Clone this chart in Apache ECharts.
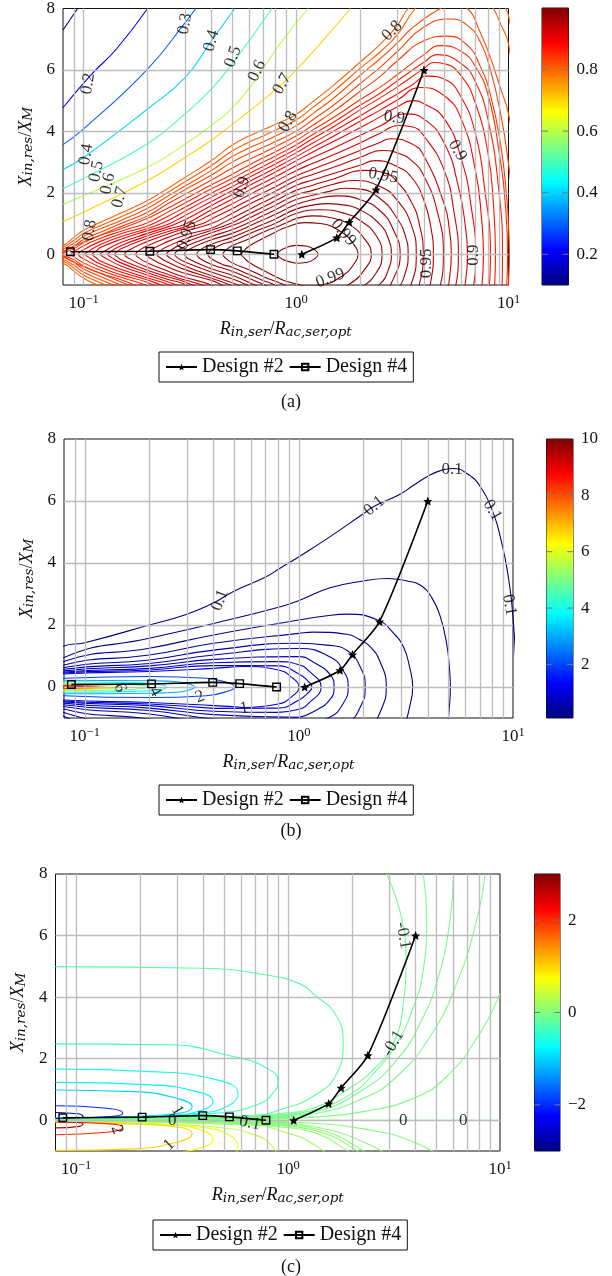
<!DOCTYPE html>
<html><head><meta charset="utf-8"><style>html,body{margin:0;padding:0;background:#fff}#c{width:612px;height:1276px}</style>
<script src="https://cdn.jsdelivr.net/npm/echarts@6/dist/echarts.min.js"></script></head><body><div id="c"></div>
<script>
// ---------- shared values ----------
const xGridValues=[0.09,0.1,0.2,0.3,0.4,0.5,0.6,0.7,0.8,0.9,1,2,3,4,5,6,7,8,9];
const yGridValues=[0,2,4,6];
const design2=[[1.064,0],[1.556,0.54],[1.78,1.05],[2.38,2.11],[4.0,6.0]];
const design4=[[0.0866,0.08],[0.205,0.1],[0.396,0.15],[0.529,0.11],[0.787,0]];

// ---------- panel (a): open contours ----------
const a10=[[0.08,7.3],[0.0937,8]];
const a20=[[0.08,4.77],[0.107,5.8],[0.143,6.69],[0.2,8]];
const a30=[[0.08,3.57],[0.1,4.08],[0.2,6.03],[0.3,7.53],[0.337,8]];
const a40=[[0.08,2.76],[0.1,3.15],[0.2,4.73],[0.3,5.75],[0.4,6.95],[0.515,8]];
const a50=[[0.08,2.14],[0.1,2.47],[0.2,3.6],[0.3,4.57],[0.4,5.38],[0.5,6.2],[0.77,8]];
const a60=[[0.08,1.62],[0.1,1.91],[0.2,2.83],[0.3,3.58],[0.4,4.2],[0.5,4.75],[0.654,5.75],[0.84,6.85],[1.14,8]];
const a70=[[0.08,1.07],[0.1,1.37],[0.2,2.4],[0.3,3.15],[0.4,3.72],[0.607,4.68],[0.814,5.4],[0.97,5.9],[1.25,6.72],[1.8,8]];
const aOpen=[a10,a20,a30,a40,a50,a60,a70];
const aOpenLevels=[0.1,0.2,0.3,0.4,0.5,0.6,0.7];

// ---------- panel (a): closed contours, upper branch from left tip to right crossing ----------
const aC0=[[0.813,0],[0.83,0.08],[0.88,0.19],[1,0.29],[1.13,0.26],[1.22,0.15],[1.27,0]];
const aC1=[[0.554,0],[0.57,0.12],[0.6,0.26],[0.7,0.52],[0.8,0.72],[0.9,0.88],[1.1,1.03],[1.3,1],[1.67,0.68],[1.88,0.3],[1.96,0]];
const aC2=[[0.453,0],[0.465,0.12],[0.5,0.28],[0.6,0.5],[0.7,0.72],[0.8,0.88],[0.887,1],[1,1.16],[1.19,1.25],[1.5,1.17],[1.8,0.95],[2.1,0.5],[2.26,0]];
const aC3=[[0.384,0],[0.395,0.12],[0.45,0.33],[0.5,0.42],[0.6,0.66],[0.7,0.85],[0.796,1],[1,1.33],[1.3,1.45],[1.7,1.33],[2,1.1],[2.36,0.65],[2.54,0]];
const aC4=[[0.341,0],[0.35,0.12],[0.4,0.33],[0.5,0.55],[0.6,0.78],[0.714,1],[0.8,1.15],[1,1.47],[1.2,1.6],[1.42,1.65],[1.7,1.6],[2,1.45],[2.5,0.95],[2.72,0.5],[2.81,0]];
const aC5=[[0.299,0],[0.31,0.14],[0.4,0.47],[0.5,0.68],[0.64,1],[0.7,1.12],[0.8,1.3],[1,1.62],[1.2,1.78],[1.56,1.9],[2,1.78],[2.5,1.4],[2.87,0.8],[3.09,0]];
const aC6=[[0.269,0],[0.28,0.14],[0.3,0.25],[0.4,0.58],[0.5,0.8],[0.587,1],[0.7,1.26],[0.8,1.45],[1,1.78],[1.2,1.92],[1.4,2.03],[1.7,2.15],[2,2.12],[2.5,1.8],[3,1.15],[3.27,0.6],[3.37,0]];
const aC7=[[0.246,0],[0.255,0.12],[0.3,0.38],[0.4,0.7],[0.533,1],[0.6,1.17],[0.7,1.4],[0.8,1.6],[1,1.93],[1.2,2.08],[1.5,2.28],[1.86,2.4],[2.5,2.2],[3,1.75],[3.49,0.95],[3.68,0]];
const aC8=[[0.221,0],[0.23,0.12],[0.25,0.26],[0.3,0.5],[0.4,0.78],[0.5,1.03],[0.6,1.31],[0.7,1.54],[0.8,1.74],[1,2.08],[1.2,2.25],[1.5,2.45],[2.11,2.73],[2.6,2.65],[3,2.35],[3.49,1.7],[3.8,1],[3.97,0]];
const aC9=[[0.198,0],[0.205,0.12],[0.25,0.42],[0.3,0.62],[0.4,0.85],[0.447,1],[0.5,1.17],[0.6,1.45],[0.7,1.69],[0.8,1.89],[1,2.24],[1.2,2.42],[1.5,2.63],[2,2.9],[2.36,3.05],[3,2.85],[3.5,2.5],[4,1.75],[4.33,0.8],[4.43,0]];
const aC10=[[0.176,0],[0.185,0.15],[0.2,0.28],[0.25,0.55],[0.3,0.75],[0.4,1],[0.5,1.33],[0.6,1.62],[0.7,1.85],[0.8,2.05],[1,2.4],[1.2,2.6],[1.5,2.83],[2,3.15],[2.54,3.38],[3,3.3],[3.5,3.05],[4,2.55],[4.62,1.4],[4.94,0]];
const aC11=[[0.156,0],[0.165,0.15],[0.2,0.42],[0.25,0.66],[0.3,0.84],[0.364,1],[0.4,1.15],[0.5,1.48],[0.6,1.77],[0.7,2],[0.8,2.2],[1,2.55],[1.2,2.77],[1.5,3.03],[2,3.38],[2.5,3.65],[2.78,3.76],[3.5,3.6],[4,3.2],[5,1.6],[5.27,0.8],[5.38,0]];
const aC12=[[0.14,0],[0.145,0.1],[0.15,0.18],[0.2,0.52],[0.25,0.74],[0.3,0.9],[0.4,1.3],[0.5,1.64],[0.6,1.93],[0.7,2.17],[0.8,2.37],[1,2.72],[1.2,2.96],[1.5,3.24],[2,3.62],[2.5,3.95],[3.03,4.19],[3.5,4.15],[4,3.85],[5,2.7],[5.56,1.3],[5.81,0]];
const aC13=[[0.13,0],[0.135,0.1],[0.15,0.28],[0.2,0.6],[0.25,0.82],[0.3,0.98],[0.4,1.45],[0.5,1.79],[0.6,2.08],[0.7,2.32],[0.8,2.52],[1,2.88],[1.2,3.15],[1.5,3.45],[2,3.87],[2.5,4.18],[3.27,4.57],[4,4.4],[5,3.6],[5.81,2.2],[6.27,0.9],[6.41,0]];
const aC14=[[0.12,0],[0.125,0.1],[0.15,0.38],[0.2,0.68],[0.25,0.9],[0.3,1.12],[0.4,1.59],[0.5,1.94],[0.6,2.23],[0.7,2.47],[0.8,2.68],[1,3.04],[1.2,3.33],[1.5,3.67],[2,4.12],[2.5,4.48],[3,4.8],[3.53,5],[4,4.9],[5,4.4],[6,3.1],[6.69,1.5],[7,0]];
const aC15=[[0.11,0],[0.115,0.12],[0.12,0.22],[0.15,0.49],[0.2,0.77],[0.25,0.98],[0.3,1.26],[0.4,1.72],[0.5,2.07],[0.6,2.36],[0.7,2.6],[0.8,2.81],[1,3.17],[1.2,3.48],[1.5,3.84],[2,4.33],[2.5,4.7],[3,5.02],[3.85,5.43],[5,5.15],[6,4.4],[7,2.7],[7.46,1.2],[7.62,0]];
const aC16=[[0.102,0],[0.107,0.12],[0.12,0.32],[0.15,0.58],[0.2,0.84],[0.25,1.1],[0.3,1.4],[0.4,1.86],[0.5,2.2],[0.6,2.5],[0.7,2.74],[0.8,2.94],[1,3.3],[1.2,3.62],[1.5,4],[2,4.5],[2.5,4.9],[3,5.22],[3.5,5.5],[4.15,5.8],[5,5.7],[6,5.1],[7,3.9],[7.7,2.2],[8.22,0]];
const aC17=[[0.0947,0],[0.1,0.15],[0.12,0.42],[0.15,0.67],[0.2,0.92],[0.25,1.24],[0.3,1.53],[0.4,1.99],[0.5,2.33],[0.6,2.62],[0.7,2.86],[0.8,3.07],[1,3.43],[1.2,3.77],[1.5,4.15],[2,4.7],[2.5,5.1],[3,5.45],[4,6.05],[4.43,6.24],[5,6.2],[6,5.8],[7,4.9],[8,3.3],[8.5,1.6],[8.68,0]];
const aC18=[[0.0877,0],[0.09,0.08],[0.1,0.28],[0.12,0.52],[0.15,0.75],[0.2,1.03],[0.25,1.38],[0.3,1.67],[0.4,2.13],[0.5,2.47],[0.6,2.76],[0.7,3],[0.8,3.2],[1,3.56],[1.2,3.9],[1.5,4.3],[2,4.85],[2.5,5.25],[3,5.65],[4,6.25],[4.62,6.5],[6,6.2],[7,5.6],[8,4.4],[9,2.1],[9.37,0]];
const aC19=[[0.0805,0],[0.09,0.25],[0.1,0.4],[0.12,0.62],[0.15,0.83],[0.2,1.17],[0.25,1.51],[0.3,1.8],[0.4,2.26],[0.5,2.6],[0.6,2.9],[0.7,3.14],[0.8,3.34],[1,3.7],[1.2,4.05],[1.5,4.45],[2,5.03],[2.5,5.45],[3,5.85],[4,6.5],[4.78,6.79],[6,6.6],[7,6.1],[8,5.2],[9,3.4],[9.7,1.5],[9.9,0]];
const aC20=[[0.0745,0],[0.08,0.05],[0.09,0.18],[0.1,0.38],[0.12,0.62],[0.15,0.9],[0.2,1.25],[0.25,1.65],[0.3,1.95],[0.4,2.42],[0.5,2.8],[0.6,3.08],[0.7,3.3],[0.8,3.5],[1,3.85],[1.2,4.2],[1.5,4.65],[2,5.3],[2.5,5.8],[3,6.3],[4,6.95],[5.16,7.1],[6.41,6.8],[7.38,6.1],[8.22,5.2],[9.17,3.6],[9.8,1.9],[10,0.9],[10.1,0]];
const aC21=[[0.069,0],[0.08,0.1],[0.09,0.27],[0.1,0.48],[0.12,0.72],[0.15,1],[0.2,1.37],[0.25,1.77],[0.3,2.1],[0.4,2.58],[0.5,3],[0.6,3.28],[0.7,3.48],[0.8,3.67],[1,4],[1.2,4.38],[1.5,4.85],[2,5.55],[2.5,6.1],[3,6.6],[4,7.4],[5.33,7.66],[6.41,7.45],[7.38,6.9],[8.22,6],[9.17,4.6],[10,2.95],[10.5,1.5],[10.7,0]];
const aC22=[[0.064,0],[0.08,0.17],[0.09,0.36],[0.1,0.58],[0.12,0.83],[0.15,1.1],[0.2,1.5],[0.25,1.9],[0.3,2.22],[0.4,2.73],[0.5,3.18],[0.6,3.46],[0.7,3.66],[0.8,3.85],[1,4.18],[1.2,4.58],[1.5,5.08],[2,5.82],[2.5,6.38],[3,6.88],[3.5,7.35],[4.78,8],[5.5,8.15],[6.41,8],[7.38,7.2],[8.22,6.4],[9.17,5.4],[10,4.57],[11.5,2],[12,0]];
const aC23=[[0.059,0],[0.08,0.23],[0.09,0.45],[0.1,0.68],[0.12,0.93],[0.15,1.22],[0.2,1.62],[0.25,2.02],[0.3,2.36],[0.4,2.89],[0.5,3.36],[0.6,3.65],[0.7,3.85],[0.8,4.04],[1,4.37],[1.2,4.78],[1.5,5.3],[2,6.05],[2.5,6.6],[3,7.15],[3.64,8],[5,8.9],[7,8.9],[8.5,8],[9.17,7.5],[10,6.85],[12,3],[12.5,0]];
const aC24=[[0.055,0],[0.08,0.29],[0.09,0.55],[0.1,0.78],[0.12,1.04],[0.15,1.34],[0.2,1.75],[0.25,2.15],[0.3,2.5],[0.4,3.05],[0.5,3.55],[0.6,3.85],[0.7,4.05],[0.8,4.23],[1,4.55],[1.2,4.97],[1.5,5.5],[2,6.25],[2.5,6.85],[3,7.45],[3.37,8],[4.5,8.8],[6.5,9.2],[8.5,8.7],[9.7,8],[10,7.76],[12,5],[13,0]];
const aClosed=[aC0,aC1,aC2,aC3,aC4,aC5,aC6,aC7,aC8,aC9,aC10,aC11,aC12,aC13,aC14,aC15,aC16,aC17,aC18,aC19,aC20,aC21,aC22,aC23,aC24];
const aClosedLevels=[0.995,0.99,0.985,0.98,0.975,0.97,0.965,0.96,0.955,0.95,0.94,0.93,0.92,0.91,0.9,0.89,0.88,0.87,0.86,0.85,0.84,0.83,0.82,0.81,0.8];
const aLabels=[[0.105,5.55,'0.2',80],[0.3,7.5,'0.3',80],[0.4,6.95,'0.4',75],[0.505,6.43,'0.5',70],[0.655,5.97,'0.6',65],[0.86,5.55,'0.7',60],[0.917,4.32,'0.8',60],[0.103,3.25,'0.4',80],[0.115,2.7,'0.5',78],[0.13,2.3,'0.6',78],[0.148,1.85,'0.7',75],[0.107,0.78,'0.8',80],[0.556,2.18,'0.9',70],[0.306,0.62,'0.95',70],[2.83,7.27,'0.8',45],[2.9,4.45,'0.9',-8],[5.75,3.38,'0.9',-60],[2.57,2.56,'0.95',-10],[1.67,0.71,'0.99',-50],[1.45,-0.78,'0.99',20],[4.1,-0.3,'0.95',90],[6.85,-0.03,'0.9',90]];

// ---------- panel (b) ----------
const b1=[[0.06,0],[0.08,1.32],[0.1,1.43],[0.2,2],[0.3,2.35],[0.397,2.7],[0.5,3.1],[0.7,3.55],[0.82,3.84],[1.01,4.22],[1.4,4.85],[2,5.59],[2.25,5.83],[2.97,6.22],[3.42,6.5],[4,6.8],[4.58,6.98],[5.2,7.05],[6,6.92],[7.06,6.45],[8.1,5.6],[8.75,4.8],[9.4,3.77],[10,2.26],[10.3,0]];
const b2=[[0.06,0],[0.08,0.95],[0.2,1.57],[0.4,2.05],[0.82,2.59],[1.01,2.8],[1.4,3.2],[2,3.42],[2.6,3.5],[3.2,3.42],[3.7,3.28],[4.2,2.85],[4.58,2.26],[4.9,1.4],[5.05,0.6],[5.1,0]];
const b3=[[0.06,0],[0.08,0.82],[0.2,1.25],[0.4,1.68],[1,2.16],[1.3,2.28],[1.68,2.35],[2.33,2.16],[2.8,1.7],[3.08,1.3],[3.3,0.6],[3.4,0]];
const b4=[[0.06,0],[0.08,0.71],[0.2,1.03],[0.4,1.41],[1,1.73],[1.17,1.77],[1.68,1.7],[1.9,1.55],[2.15,1.3],[2.4,0.8],[2.56,0]];
const b5=[[0.06,0],[0.08,0.63],[0.2,0.87],[0.4,1.19],[1,1.41],[1.35,1.35],[1.68,1.18],[1.95,0.6],[2.04,0]];
const b6=[[0.06,0],[0.08,0.57],[0.2,0.76],[0.4,1.03],[1,1.24],[1.4,0.97],[1.62,0.5],[1.7,0]];
const b7=[[0.06,0],[0.08,0.52],[0.2,0.68],[0.4,0.89],[1,0.98],[1.17,0.8],[1.4,0.4],[1.46,0]];
const b8=[[0.06,0],[0.08,0.48],[0.2,0.6],[0.4,0.78],[0.8,0.82],[1,0.72],[1.1,0.55],[1.27,0]];
const b9=[[0.06,0],[0.08,0.45],[0.2,0.55],[0.4,0.69],[0.8,0.68],[1,0.42],[1.1,0.2],[1.15,0]];
const b10=[[0.06,0],[0.08,0.42],[0.2,0.5],[0.4,0.6],[0.555,0.66],[0.8,0.55],[0.93,0.3],[1,0]];
const b20=[[0.06,0],[0.08,0.28],[0.2,0.34],[0.37,0.28],[0.477,0.11],[0.5,0]];
const b30=[[0.06,0],[0.08,0.22],[0.2,0.2],[0.278,0.16],[0.32,0.05],[0.327,0]];
const b40=[[0.06,0],[0.08,0.17],[0.168,0.14],[0.217,0.1],[0.241,0]];
const b50=[[0.06,0],[0.08,0.12],[0.15,0.09],[0.185,0.05],[0.195,0]];
const b60=[[0.06,0],[0.08,0.09],[0.12,0.06],[0.14,0.02],[0.146,0]];
const b70=[[0.06,0],[0.08,0.07],[0.11,0.04],[0.125,0]];
const b80=[[0.06,0],[0.08,0.05],[0.105,0.02],[0.117,0]];
const b90=[[0.06,0],[0.08,0.03],[0.1,0.01],[0.105,0]];
const bClosed=[b1,b2,b3,b4,b5,b6,b7,b8,b9,b10,b20,b30,b40,b50,b60,b70,b80,b90];
const bLevels=[0.1,0.2,0.3,0.4,0.5,0.6,0.7,0.8,0.9,1,2,3,4,5,6,7,8,9];
const bLabels=[[0.428,2.8,'0.1',70],[2.25,5.84,'0.1',40],[5.2,7.03,'0.1',0],[8,5.7,'0.1',-60],[9.6,2.65,'0.1',-80],[0.555,-0.69,'1',10],[0.345,-0.32,'2',20],[0.213,-0.15,'4',-60],[0.146,-0.02,'6',-70]];

// ---------- panel (c) ----------
const cN1=[[0.08,4.99],[0.385,4.94],[0.795,4.72],[1.14,4.43],[1.31,4.12],[1.7,3.37],[1.82,2.5],[1.7,1.53],[1.31,0.77],[0.917,0.34],[0.7,0.14],[0.4,0.05],[0.08,0.02]];
const cN2=[[0.08,2.48],[0.27,2.45],[0.55,2.07],[0.795,1.69],[0.897,1.26],[0.85,0.88],[0.714,0.5],[0.462,0.23],[0.186,0.1],[0.08,0.06]];
const cN3=[[0.08,1.66],[0.223,1.58],[0.462,1.31],[0.581,0.88],[0.533,0.5],[0.385,0.23],[0.186,0.12],[0.08,0.06]];
const cN4=[[0.08,1.23],[0.223,1.15],[0.372,0.93],[0.443,0.61],[0.397,0.34],[0.269,0.14],[0.08,0.06]];
const cN5=[[0.08,0.98],[0.186,0.93],[0.3,0.71],[0.353,0.44],[0.309,0.23],[0.186,0.12],[0.08,0.06]];
const cN6=[[0.08,0.47],[0.14,0.39],[0.166,0.23],[0.145,0.12],[0.08,0.06]];
const cN7=[[0.08,0.25],[0.104,0.2],[0.108,0.12],[0.08,0.04]];
const cG1=[[2.92,8],[3.45,6.5],[3.6,5.2],[3.5,3.8],[3.14,2.5],[2.57,1.69],[1.89,0.98],[1.31,0.39],[0.917,0.22],[0.5,0.13],[0.2,0.06],[0.08,0.03]];
const cG2=[[4.35,8],[4.51,6.5],[4.35,4.9],[3.9,3.67],[3.26,2.5],[2.62,1.63],[2,0.88],[1.31,0.32],[0.917,0.18],[0.5,0.1],[0.2,0.05],[0.08,0.025]];
const cG3=[[6.03,8],[5.81,6.5],[5.12,4.66],[4.2,3.15],[3.26,1.96],[2.27,1],[1.31,0.26],[0.917,0.14],[0.5,0.08],[0.2,0.04],[0.08,0.02]];
const cG4=[[8.5,8],[7.76,6.5],[6.25,4.45],[4.68,2.72],[3.26,1.42],[2.27,0.71],[1.31,0.2],[0.917,0.1],[0.5,0.05],[0.2,0.03],[0.08,0.015]];
const cG5=[[10,4.13],[8.05,2.83],[5.6,1.42],[3.9,0.71],[2.27,0.28],[1.31,0.1],[0.917,0.06],[0.5,0.03],[0.2,0.02],[0.08,0.01]];
const cW1=[[1.1,0.2],[0.917,0.16],[0.5,0.07],[0.2,0.02]];
const cW2=[[1.05,0.15],[0.917,0.12],[0.5,0.05],[0.2,0.015]];
const cW3=[[1.05,0.1],[0.8,0.06],[0.4,0.025],[0.2,0.01]];
const cW4=[[1,0.05],[0.6,0.02],[0.3,0.008]];
const cZero=[[0.08,0],[10,0]];
const cLines=[cN1,cN2,cN3,cN4,cN5,cN6,cN7,cG1,cG2,cG3,cG4,cG5,cW1,cW2,cW3,cW4];
const cLevels=[-0.2,-0.4,-0.6,-0.8,-1,-2,-2.7,-0.1,-0.08,-0.06,-0.04,-0.02,-0.07,-0.05,-0.03,-0.01];
const cLabels=[[0.284,0,'0',0],[0.3,0.32,'1',-60],[0.156,-0.31,'2',-70],[0.275,-0.8,'1',45],[0.66,-0.09,'0.1',-12],[3.14,2.5,'-0.1',60],[3.5,6,'-0.1',-80],[3.5,-0.02,'0',0],[6.7,-0.02,'0',0]];

// ---------- layout ----------
const SERIF='"Liberation Serif"';
const panels=[
 {grid:{left:63,top:8,width:445.5,height:277},bar:{left:542,top:8,width:26.5,height:277},range:[0.1,1],ticks:[0.2,0.4,0.6,0.8],labels:[0.2,0.4,0.6,0.8],legend:{left:159,top:352},cap:'(a)',capTop:388},
 {grid:{left:64,top:439,width:449,height:279},bar:{left:546.5,top:439,width:26.5,height:279},range:[0.1,10],ticks:[2,4,6,8],labels:[2,4,6,8,10],legend:{left:159,top:785},cap:'(b)',capTop:817},
 {grid:{left:55.5,top:874,width:444.5,height:277},bar:{left:534.5,top:874,width:25.5,height:277},range:[-3,3],ticks:[-2,0,2],labels:[-2,0,2],legend:{left:153,top:1220},cap:'(c)',capTop:1253}
];
function lerp(a,b,u){return Math.round(a+(b-a)*u)}
function jet(t){
  const s=[[0,0,0,127],[1/8,0,0,255],[3/8,0,255,255],[5/8,255,255,0],[7/8,255,0,0],[1,127,0,0]];
  t=Math.max(0,Math.min(1,t));
  for(let i=1;i<s.length;i++){ if(t<=s[i][0]){const u=(t-s[i-1][0])/(s[i][0]-s[i-1][0]);
    return `rgb(${lerp(s[i-1][1],s[i][1],u)},${lerp(s[i-1][2],s[i][2],u)},${lerp(s[i-1][3],s[i][3],u)})`;}}
  return 'rgb(127,0,0)';
}
function levelColor(p,v){const r=panels[p].range;return jet((v-r[0])/(r[1]-r[0]))}
function peak(u){let k=0;u.forEach((q,i)=>{if(q[1]>u[k][1])k=i});return k}
function neg(u){return u.map(q=>[q[0],-q[1]])}
function loop(u){const k=peak(u);
  return neg(u.slice(0,k+1).reverse()).concat(u.slice(1)).concat(neg(u.slice(k).reverse()).slice(1));}
function contour(p,data,level){return {type:'line',xAxisIndex:p,yAxisIndex:p,data:data,smooth:0.5,showSymbol:false,symbol:'none',z:3,silent:true,animation:false,lineStyle:{width:1.1,color:levelColor(p,level)}}}
const STAR='path://M0,-10L2.9,-3.1L9.5,-3.1L4.7,1.5L5.9,8.1L0,4.5L-5.9,8.1L-4.7,1.5L-9.5,-3.1L-2.9,-3.1Z';

const series=[],grids=[],xAxes=[],yAxes=[],legends=[],titles=[];
const SUB='"DejaVu Serif"';
const richX={i:{fontFamily:SERIF,fontStyle:'italic',fontSize:18,color:'#111'},s:{fontFamily:SUB,fontStyle:'italic',fontSize:13.5,color:'#111',padding:[5,0,0,0]},n:{fontFamily:SERIF,fontSize:18,color:'#111'}};
const xName='{i|R}{s|in,ser}{n|/}{i|R}{s|ac,ser,opt}';
const yName='{i|X}{s|in,res}{n|/}{i|X}{s|M}';
panels.forEach((P,p)=>{
  grids.push(Object.assign({show:true,borderColor:'#111',borderWidth:1,backgroundColor:'transparent',containLabel:false},P.grid));
  xAxes.push({gridIndex:p,type:'log',logBase:10,min:0.08,max:10,splitLine:{show:false},minorSplitLine:{show:false},axisLine:{show:false},axisTick:{show:false},minorTick:{show:false},
    axisLabel:{showMinLabel:false,margin:8,color:'#111',hideOverlap:false,formatter:v=>{const e=Math.log10(v);if(Math.abs(e-Math.round(e))>0.001)return '';const n=Math.round(e);return '{b|10}{u|'+(n<0?'\u2212'+(-n):n)+'}'},
      rich:{b:{fontFamily:SERIF,fontSize:17,color:'#111'},u:{fontFamily:SERIF,fontSize:12.5,color:'#111',padding:[0,0,8,0]}}},
    name:xName,nameLocation:'middle',nameGap:35,nameTextStyle:{rich:richX}});
  yAxes.push({gridIndex:p,type:'value',min:-1,max:8,splitLine:{show:false},axisLine:{show:false},axisTick:{show:false},
    axisLabel:{customValues:[0,2,4,6,8],margin:8,fontFamily:SERIF,fontSize:17,color:'#111'},
    name:yName,nameLocation:'middle',nameGap:27,nameRotate:90,nameTextStyle:{rich:richX}});
  legends.push({selectedMode:false,left:P.legend.left,top:P.legend.top,orient:'horizontal',data:['Design #2','Design #4'],borderColor:'#111',borderWidth:1,borderRadius:0,padding:[5,6,5,6],itemGap:5,itemWidth:31,itemHeight:8,
    textStyle:{fontFamily:SERIF,fontSize:20,color:'#111',padding:[0,0,0,0]}});
  titles.push({text:P.cap,left:286,top:P.capTop,textAlign:'center',textStyle:{fontFamily:SERIF,fontWeight:'normal',fontSize:18,color:'#111'}});
  // grid lines
  series.push({type:'line',xAxisIndex:p,yAxisIndex:p,data:[],z:1,silent:true,animation:false,markLine:{silent:true,animation:false,symbol:'none',label:{show:false},lineStyle:{color:'#bdbdbd',width:1.3,type:'solid'},
    data:xGridValues.map(v=>({xAxis:v})).concat(yGridValues.map(v=>({yAxis:v})))}});
});
panels.forEach((P,p)=>{
  grids.push(Object.assign({show:true,borderColor:'#111',borderWidth:1,backgroundColor:'transparent'},P.bar));
  xAxes.push({gridIndex:p+3,type:'value',min:0,max:1,show:false});
  const fmt=p===2?(v=>String(v).replace('-','\u2212')):(v=>String(v));
  yAxes.push({gridIndex:p+3,type:'value',min:P.range[0],max:P.range[1],position:'right',splitLine:{show:false},axisLine:{show:false},axisTick:{show:false},
    axisLabel:{customValues:P.labels,margin:8,formatter:fmt,fontFamily:SERIF,fontSize:17,color:'#111'}});
});
panels.forEach((P,p)=>{
  const stops=[0,1/8,3/8,5/8,7/8,1].map(q=>({offset:1-q,color:jet(q)})).reverse();
  series.push({type:'custom',xAxisIndex:p+3,yAxisIndex:p+3,silent:true,animation:false,z:1,data:[[0,P.range[0],P.range[1]]],encode:{x:0,y:[1,2]},
    renderItem:(prm,api)=>{const a=api.coord([0,api.value(1)]),b=api.coord([1,api.value(2)]);
      return {type:'rect',shape:{x:a[0],y:b[1],width:b[0]-a[0],height:a[1]-b[1]},style:{fill:{type:'linear',x:0,y:0,x2:0,y2:1,colorStops:stops}}}}});
  series.push({type:'custom',xAxisIndex:p+3,yAxisIndex:p+3,silent:true,animation:false,z:2,data:P.ticks.map(v=>[0,v]),encode:{x:0,y:1},
    renderItem:(prm,api)=>{const v=api.value(1),l=api.coord([0,v]),m=api.coord([0.22,v]),n=api.coord([0.78,v]),r=api.coord([1,v]);const st={stroke:'#777',lineWidth:1};
      return {type:'group',children:[{type:'line',shape:{x1:l[0],y1:l[1],x2:m[0],y2:m[1]},style:st},{type:'line',shape:{x1:n[0],y1:n[1],x2:r[0],y2:r[1]},style:st}]}}});
});
// contours
aOpen.forEach((d,i)=>series.push(contour(0,d,aOpenLevels[i])));
aClosed.forEach((d,i)=>series.push(contour(0,loop(d),aClosedLevels[i])));
bClosed.forEach((d,i)=>series.push(contour(1,loop(d),bLevels[i])));
cLines.forEach((d,i)=>{series.push(contour(2,d,cLevels[i]));series.push(contour(2,neg(d),-cLevels[i]));});
series.push(contour(2,cZero,0));
// designs and labels
[aLabels,bLabels,cLabels].forEach((L,p)=>{
  series.push({type:'line',name:'Design #2',xAxisIndex:p,yAxisIndex:p,data:design2,smooth:0.25,z:6,animation:false,silent:true,symbol:STAR,symbolSize:9,showAllSymbol:true,lineStyle:{color:'#000',width:1.6},itemStyle:{color:'#000'}});
  series.push({type:'line',name:'Design #4',xAxisIndex:p,yAxisIndex:p,data:design4,smooth:0.25,z:6,animation:false,silent:true,symbol:'rect',symbolSize:7.5,showAllSymbol:true,lineStyle:{color:'#000',width:1.6},itemStyle:{color:'rgba(255,255,255,0)',borderColor:'#000',borderWidth:1.4}});
  series.push({type:'scatter',xAxisIndex:p,yAxisIndex:p,symbolSize:1,z:5,animation:false,silent:true,itemStyle:{color:'rgba(0,0,0,0)'},
    data:L.map(q=>({value:[q[0],q[1]],label:{show:true,position:'inside',formatter:q[2],rotate:q[3],fontFamily:SERIF,fontSize:17,color:'#000'}}))});
});
const chart=echarts.init(document.getElementById('c'),null,{renderer:'canvas'});
chart.setOption({animation:false,backgroundColor:'#fff',title:titles,legend:legends,grid:grids,xAxis:xAxes,yAxis:yAxes,series:series});
</script></body></html>
